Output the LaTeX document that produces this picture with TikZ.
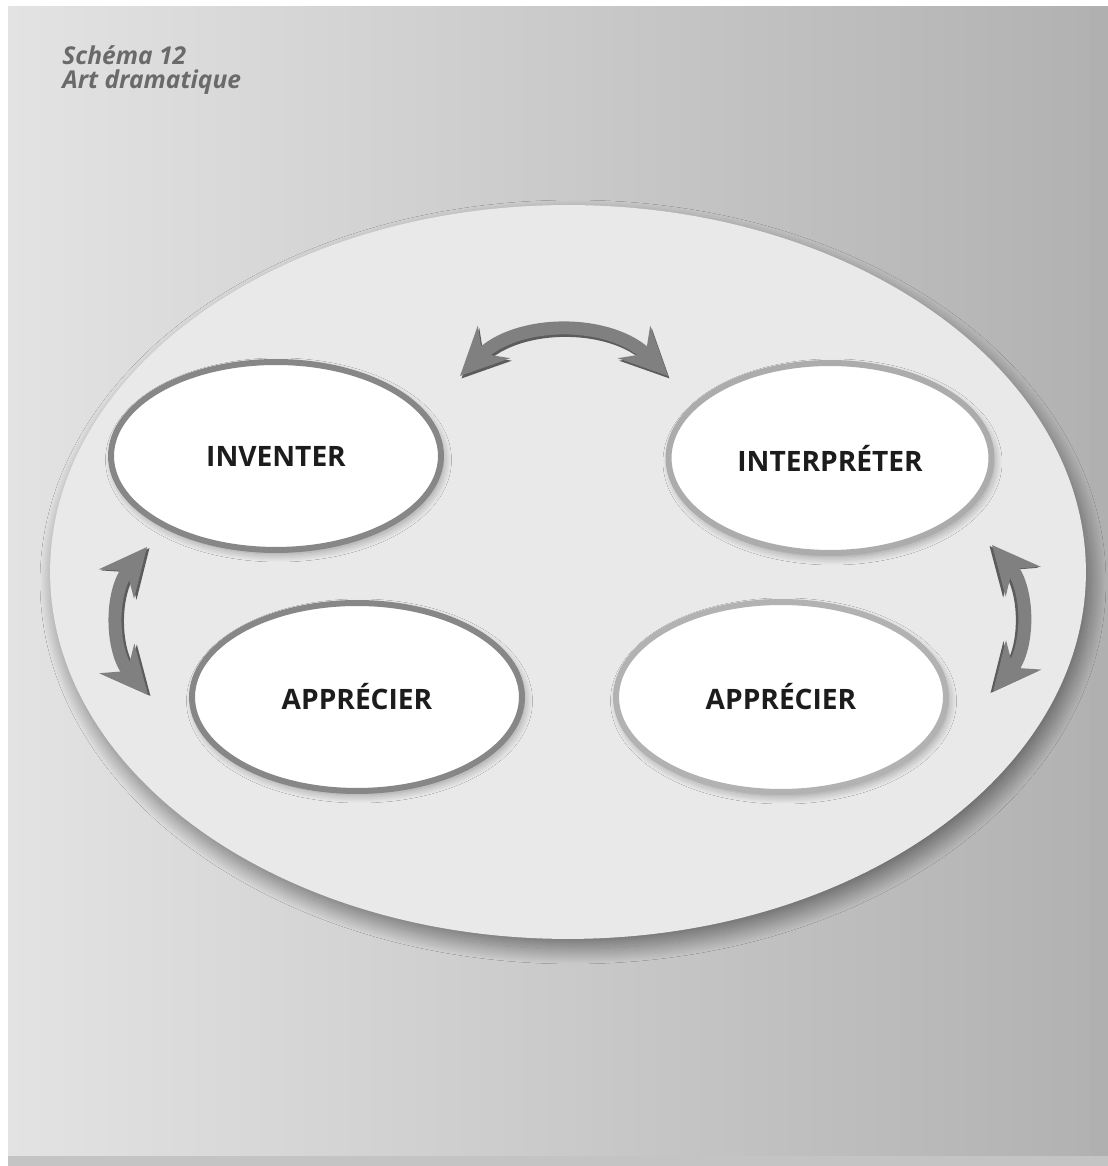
\documentclass[tikz,border=0pt]{standalone}
\usepackage{fontspec}
\setmainfont{Open Sans}
\setsansfont{Open Sans}
\usetikzlibrary{positioning,arrows.meta,shapes.geometric,shadows.blur}
\definecolor{bgleft}{HTML}{E3E3E3}
\definecolor{bgright}{HTML}{B0B0B0}
\definecolor{plate}{HTML}{E9E9E9}
\definecolor{rimdark}{HTML}{878787}
\definecolor{rimlight}{HTML}{B2B2B2}
\definecolor{arrowgray}{HTML}{808080}
\definecolor{arrowedge}{HTML}{2E2E2E}
\definecolor{titlegray}{HTML}{6A6A6A}
\definecolor{ink}{HTML}{1C1C1C}

\tikzset{
  ovalbox/.style={ellipse,fill=white,line width=0.12cm,inner sep=0pt,
    minimum width=6.6cm,minimum height=3.76cm,
    font=\fontsize{16}{18}\selectfont\bfseries,text=ink,
    blur shadow={shadow xshift=0.05cm,shadow yshift=-0.08cm,
      shadow blur radius=0.16cm,shadow blur steps=30,shadow opacity=35}},
  swaparrow/.style={line width=0.26cm,arrowgray,
    {Stealth[length=0.95cm,width=0.9cm,inset=0.32cm]}-{Stealth[length=0.95cm,width=0.9cm,inset=0.32cm]}},
  swapedge/.style={swaparrow,arrowedge,opacity=0.75}
}

\begin{document}
\begin{tikzpicture}[x=0.02cm,y=0.02cm]
  \useasboundingbox (0,0) rectangle (1108,1166);
  % backdrop
  \fill[bgleft!45!bgright] (8,-20) rectangle (1130,1159);
  \shade[left color=bgleft,right color=bgright] (8,-20) rectangle (1130,1159);
  \fill[bgright] (1090,-20) rectangle (1130,1159);
  \fill[bgleft!40!bgright] (8,-20) rectangle (1130,10);

  % title
  \node[anchor=base west,inner sep=0pt,text=titlegray,
    font=\fontsize{14}{16}\selectfont\bfseries\itshape] (title) at (62,1101) {Schéma 12};
  \node[anchor=base west,inner sep=0pt,text=titlegray,
    font=\fontsize{14}{16}\selectfont\bfseries\itshape] (subtitle)
    at ([yshift=-0.48cm]title.base west) {Art dramatique};

  % plate
  \node[ellipse,fill=plate,inner sep=0pt,minimum width=20.72cm,minimum height=14.68cm,
    blur shadow={shadow xshift=0.1cm,shadow yshift=-0.2cm,
      shadow blur radius=0.3cm,shadow blur steps=40,shadow opacity=45}] (plate) at (568,594) {};

  % ovals
  \node[ovalbox,draw=rimdark] (inventer) at (276,710) {INVENTER};
  \node[ovalbox,draw=rimlight!85!rimdark,minimum width=6.46cm,minimum height=3.8cm]
    (interpreter) at (830,708) {INTERPRÉTER};
  \node[ovalbox,draw=rimdark] (apprecierL) at (357,469) {APPRÉCIER};
  \node[ovalbox,draw=rimlight,minimum height=3.8cm] (apprecierR) at (781,469) {APPRÉCIER};

  % arrow ends
  \coordinate (topL) at (460,790);
  \coordinate (topR) at (668,790);
  \coordinate (leftT) at (147,619);
  \coordinate (leftB) at (148,471);
  \coordinate (rightT) at (992,621);
  \coordinate (rightB) at (993,474);

  % arrows with a dark lower edge
  \draw[swapedge] ([shift={(1.5,-2.5)}]topL) to[bend left=45] ([shift={(1.5,-2.5)}]topR);
  \draw[swaparrow] (topL) to[bend left=45] (topR);
  \draw[swapedge] ([shift={(2.5,-1)}]leftT) to[bend right=40] ([shift={(2.5,-1)}]leftB);
  \draw[swaparrow] (leftT) to[bend right=40] (leftB);
  \draw[swapedge] ([shift={(-2.5,-1)}]rightT) to[bend left=40] ([shift={(-2.5,-1)}]rightB);
  \draw[swaparrow] (rightT) to[bend left=40] (rightB);
\end{tikzpicture}
\end{document}
